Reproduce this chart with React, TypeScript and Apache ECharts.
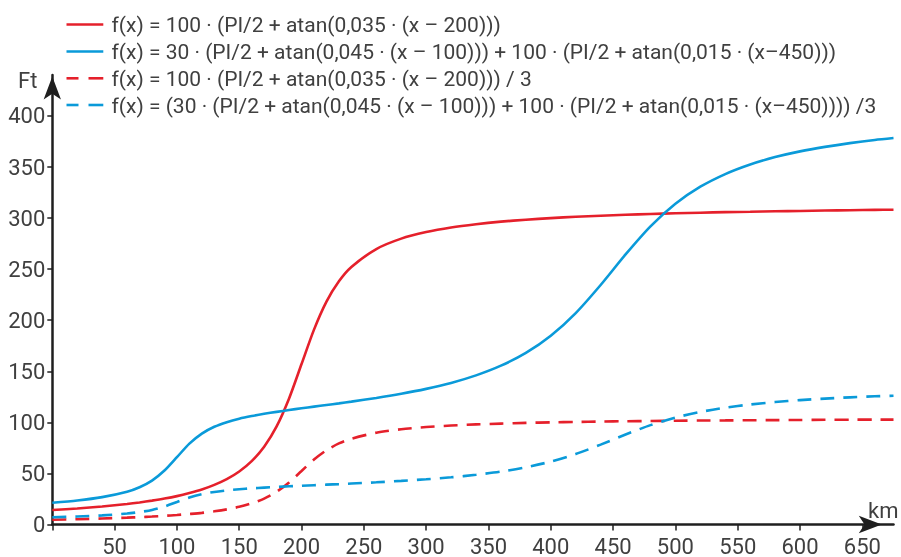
import { useEffect, useRef } from "react";
import * as echarts from "echarts";

const xKm = [0, 20, 40, 60, 70, 80, 90, 100, 110, 120, 130, 140, 150, 160, 170, 180, 190, 200, 210, 220, 230, 240, 260, 280, 300, 320, 340, 360, 380, 400, 420, 440, 460, 480, 500, 520, 540, 560, 580, 600, 620, 640, 660, 675];

const redSolid = [14.2, 15.7, 17.7, 20.1, 21.6, 23.4, 25.4, 27.8, 30.8, 34.3, 38.8, 44.4, 51.9, 62.0, 76.1, 96.0, 123.4, 157.1, 190.8, 218.2, 238.1, 252.1, 269.7, 279.9, 286.3, 290.8, 294.0, 296.5, 298.4, 300.0, 301.3, 302.3, 303.2, 304.0, 304.7, 305.3, 305.8, 306.2, 306.7, 307.0, 307.4, 307.7, 308.0, 308.2];

const blueSolid = [21.3, 23.5, 26.8, 32.1, 36.5, 43.0, 52.8, 65.9, 79.2, 89.0, 95.7, 100.2, 103.6, 106.2, 108.4, 110.3, 112.1, 113.8, 115.4, 117.0, 118.6, 120.3, 123.9, 128.0, 132.8, 138.6, 146.0, 155.5, 168.0, 184.8, 207.0, 234.5, 264.4, 291.9, 314.0, 330.7, 343.1, 352.5, 359.7, 365.3, 369.7, 373.4, 376.5, 378.4];

const redDashed = [4.7, 5.2, 5.9, 6.7, 7.2, 7.8, 8.5, 9.3, 10.3, 11.4, 12.9, 14.8, 17.3, 20.7, 25.4, 32.0, 41.1, 52.4, 63.6, 72.7, 79.4, 84.0, 89.9, 93.3, 95.4, 96.9, 98.0, 98.8, 99.5, 100.0, 100.4, 100.8, 101.1, 101.3, 101.6, 101.8, 101.9, 102.1, 102.2, 102.3, 102.5, 102.6, 102.7, 102.7];

const blueDashed = [7.1, 7.8, 8.9, 10.7, 12.2, 14.3, 17.6, 22.0, 26.4, 29.7, 31.9, 33.4, 34.5, 35.4, 36.1, 36.8, 37.4, 37.9, 38.5, 39.0, 39.5, 40.1, 41.3, 42.7, 44.3, 46.2, 48.7, 51.8, 56.0, 61.6, 69.0, 78.2, 88.1, 97.3, 104.7, 110.2, 114.4, 117.5, 119.9, 121.8, 123.2, 124.5, 125.5, 126.1];

const seriesNames = [
  "f(x) = 100 · (PI/2 + atan(0,035 · (x – 200)))",
  "f(x) = 30 · (PI/2 + atan(0,045 · (x – 100))) + 100 · (PI/2 + atan(0,015 · (x–450)))",
  "f(x) = 100 · (PI/2 + atan(0,035 · (x – 200))) / 3",
  "f(x) = (30 · (PI/2 + atan(0,045 · (x – 100))) + 100 · (PI/2 + atan(0,015 · (x–450)))) /3",
];

const xTicks = [0, 50, 100, 150, 200, 250, 300, 350, 400, 450, 500, 550, 600, 650];
const xLabels = [50, 100, 150, 200, 250, 300, 350, 400, 450, 500, 550, 600, 650];
const yTicks = [0, 50, 100, 150, 200, 250, 300, 350, 400];

const RED = "#e5202b";
const BLUE = "#0a9ad9";
const AXIS = "#1f1f1f";
const TEXT = "#404040";
const FONT = "Roboto, 'Noto Sans', sans-serif";

export default function App() {
  const ref = useRef<HTMLDivElement>(null);

  useEffect(() => {
    if (!ref.current) return;
    const chart = echarts.init(ref.current, undefined, { renderer: "svg" });
    const pairs = (ys: number[]) => xKm.map((x, i) => [x, ys[i]]);
    const colors = [RED, BLUE, RED, BLUE];
    const dashedFlags = [false, false, true, true];
    const mk = (idx: number, ys: number[]) => ({
      name: seriesNames[idx],
      type: "line",
      data: pairs(ys),
      symbol: "none",
      smooth: 0.25,
      clip: false,
      lineStyle: { color: colors[idx], width: 2.6, type: dashedFlags[idx] ? [14, 9] : "solid", cap: "butt" },
      itemStyle: { color: colors[idx] },
      z: 2,
    });

    const legendRowsY = [24.5, 51.5, 78.3, 105];
    const legendGraphics: any[] = [];
    seriesNames.forEach((name, i) => {
      const y = legendRowsY[i];
      if (dashedFlags[i]) {
        legendGraphics.push({ type: "line", shape: { x1: 66.5, y1: y, x2: 78.5, y2: y }, style: { stroke: colors[i], lineWidth: 2.6 } });
        legendGraphics.push({ type: "line", shape: { x1: 88.5, y1: y, x2: 103.3, y2: y }, style: { stroke: colors[i], lineWidth: 2.6 } });
      } else {
        legendGraphics.push({ type: "line", shape: { x1: 66.5, y1: y, x2: 103.3, y2: y }, style: { stroke: colors[i], lineWidth: 2.6 } });
      }
      legendGraphics.push({ type: "text", x: 111.5, y: y + 0.5, style: { text: name, fontSize: 21, fill: TEXT, fontFamily: FONT, verticalAlign: "middle", align: "left" } });
    });

    chart.setOption({
      animation: false,
      textStyle: { fontFamily: FONT },
      grid: { left: 52.3, right: 7.5, top: 75.1, bottom: 32, containLabel: false },
      xAxis: {
        type: "value",
        min: 0,
        max: 675,
        axisLine: {
          show: true,
          onZero: false,
          symbol: ["none", "arrow"],
          symbolSize: [13, 23],
          symbolOffset: [0, -11.7],
          lineStyle: { color: AXIS, width: 2.5 },
        },
        axisTick: { show: true, length: 6, customValues: xTicks, lineStyle: { color: AXIS, width: 1.5 } },
        axisLabel: { customValues: xLabels, fontSize: 22, lineHeight: 18, color: TEXT, margin: 12.5, fontFamily: FONT },
        splitLine: { show: false },
      },
      yAxis: {
        type: "value",
        min: 0,
        max: 440,
        axisLine: {
          show: true,
          onZero: false,
          symbol: ["none", "arrow"],
          symbolSize: [13, 23],
          symbolOffset: [0, -1.5],
          lineStyle: { color: AXIS, width: 2.5 },
        },
        axisTick: { show: true, length: 5, customValues: yTicks, lineStyle: { color: AXIS, width: 1.5 } },
        axisLabel: { customValues: yTicks, fontSize: 22, lineHeight: 18, color: TEXT, margin: 7, fontFamily: FONT },
        splitLine: { show: false },
      },
      graphic: [
        { type: "text", x: 18, y: 80, style: { text: "Ft", fontSize: 22, fill: TEXT, fontFamily: FONT, verticalAlign: "middle" } },
        { type: "text", x: 868, y: 510, style: { text: "km", fontSize: 22, fill: TEXT, fontFamily: FONT, verticalAlign: "middle" } },
        ...legendGraphics,
      ],
      series: [mk(0, redSolid), mk(1, blueSolid), mk(2, redDashed), mk(3, blueDashed)],
    });
    return () => chart.dispose();
  }, []);

  return <div ref={ref} style={{ position: "fixed", left: 0, top: 0, width: 901, height: 557 }} />;
}
